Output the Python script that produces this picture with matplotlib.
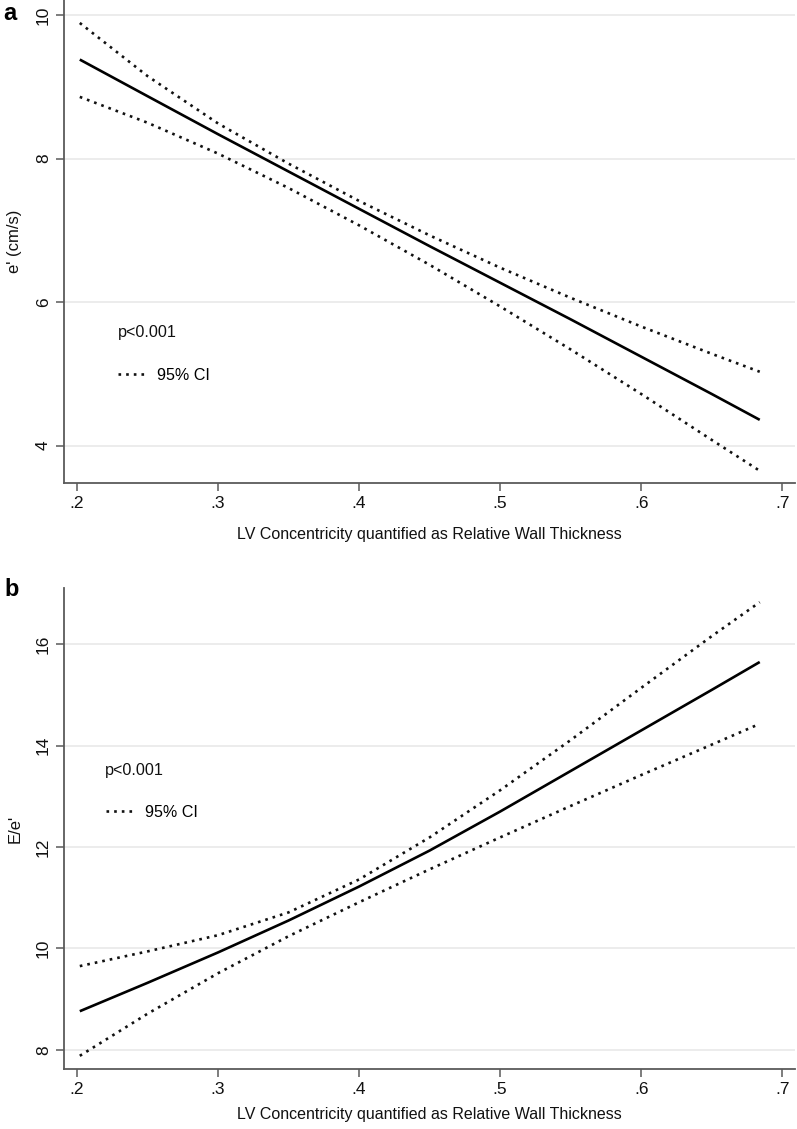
import matplotlib
matplotlib.use("Agg")
import matplotlib.pyplot as plt

plt.rcParams["font.family"] = ["Liberation Sans", "DejaVu Sans"]

# relative wall thickness grid (same for both panels)
rwt = [0.202, 0.25, 0.30, 0.35, 0.40, 0.45, 0.50, 0.55, 0.60, 0.65, 0.684]

# panel a: e' (cm/s)
e_fit = [9.38, 8.87, 8.34, 7.82, 7.30, 6.78, 6.27, 5.76, 5.24, 4.72, 4.36]
e_hi = [9.89, 9.15, 8.49, 7.93, 7.41, 6.93, 6.48, 6.06, 5.66, 5.28, 5.03]
e_lo = [8.86, 8.50, 8.07, 7.59, 7.07, 6.52, 5.94, 5.34, 4.72, 4.08, 3.65]

# panel b: E/e'
ee_fit = [8.76, 9.32, 9.92, 10.55, 11.22, 11.93, 12.70, 13.50, 14.30, 15.10, 15.65]
ee_hi = [9.65, 9.94, 10.26, 10.71, 11.36, 12.19, 13.12, 14.11, 15.14, 16.16, 16.83]
ee_lo = [7.88, 8.71, 9.51, 10.24, 10.91, 11.56, 12.19, 12.81, 13.42, 14.02, 14.43]

x_ticks = [0.2, 0.3, 0.4, 0.5, 0.6, 0.7]
x_ticklabels = [".2", ".3", ".4", ".5", ".6", ".7"]
xlabel = "LV Concentricity quantified as Relative Wall Thickness"

SPINE = "#5a5a5a"
GRID = "#e9e9e9"
TXT = "#111111"


def draw_panel(ax, fit, hi, lo, yticks, ylim, ylabel, xlab_y, p_pos, leg_pos):
    ax.plot(rwt, fit, color="black", lw=1.9, solid_capstyle="butt")
    (ci,) = ax.plot(rwt, hi, color="#111111", lw=1.9, ls=(0, (1, 1.9)),
                    dash_capstyle="butt", label="95% CI")
    ax.plot(rwt, lo, color="#111111", lw=1.9, ls=(0, (1, 1.9)),
            dash_capstyle="butt")

    ax.set_xlim(0.1908, 0.709)
    ax.set_ylim(*ylim)
    ax.set_xticks(x_ticks)
    ax.set_xticklabels(x_ticklabels)
    ax.set_yticks(yticks)
    ax.set_yticklabels([str(t) for t in yticks], rotation=90, va="center")
    ax.grid(True, axis="y", color=GRID, lw=1.2)
    ax.set_axisbelow(True)

    for s in ("top", "right"):
        ax.spines[s].set_visible(False)
    for s in ("left", "bottom"):
        ax.spines[s].set_color(SPINE)
        ax.spines[s].set_linewidth(1.3)
    ax.tick_params(axis="both", color=SPINE, length=6, width=1.1,
                   labelsize=12.5, labelcolor=TXT, pad=3.5)

    ax.set_xlabel(xlabel, fontsize=11.5, color=TXT)
    ax.xaxis.set_label_coords(0.5, xlab_y)
    ax.set_ylabel(ylabel, fontsize=12, color=TXT)
    ax.yaxis.set_label_coords(-0.057, 0.5)

    ax.text(p_pos[0], p_pos[1], "p<0.001", transform=ax.transAxes,
            fontsize=11.6, va="center", ha="left", color=TXT)
    ax.legend(handles=[ci], loc="center left", bbox_to_anchor=leg_pos,
              frameon=False, fontsize=11.6, handlelength=1.85,
              handletextpad=0.55, borderpad=0, borderaxespad=0)


fig = plt.figure(figsize=(7.97, 11.29), dpi=100)
ax_a = fig.add_axes([64 / 797, 1 - 483 / 1129, 731 / 797, 483 / 1129])
ax_b = fig.add_axes([64 / 797, 1 - 1069 / 1129, 731 / 797, 481 / 1129])

draw_panel(ax_a, e_fit, e_hi, e_lo, [4, 6, 8, 10], (3.48, 10.21),
           "e' (cm/s)", -0.091, (0.0739, 0.3106), (0.0739, 0.2236))
draw_panel(ax_b, ee_fit, ee_hi, ee_lo, [8, 10, 12, 14, 16], (7.62, 17.11),
           "E/e'", -0.079, (0.0561, 0.6216), (0.0575, 0.534))

fig.text(10 / 797, 1 - 14 / 1129, "a", fontsize=17, fontweight="bold",
         ha="center", va="center")
fig.text(12 / 797, 1 - 590 / 1129, "b", fontsize=17, fontweight="bold",
         ha="center", va="center")

fig.savefig("out.png", dpi=100)
